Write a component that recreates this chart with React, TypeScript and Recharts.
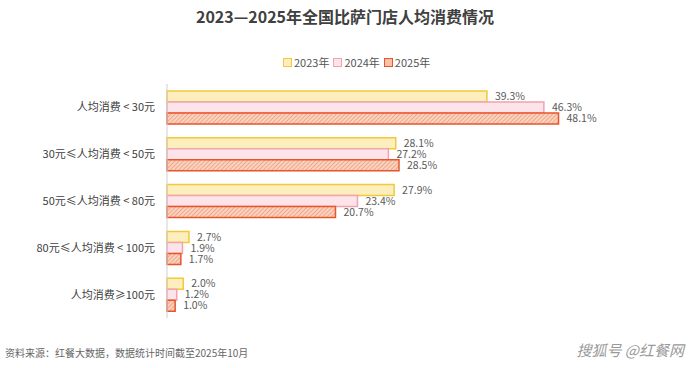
import React from "react"
import { BarChart, Bar, XAxis, YAxis, LabelList } from "recharts"

const categories = [
  "人均消费 < 30元",
  "30元≤人均消费 < 50元",
  "50元≤人均消费 < 80元",
  "80元≤人均消费 < 100元",
  "人均消费≥100元",
]
const values2023 = [39.3, 28.1, 27.9, 2.7, 2.0]
const values2024 = [46.3, 27.2, 23.4, 1.9, 1.2]
const values2025 = [48.1, 28.5, 20.7, 1.7, 1.0]
const seriesNames = ["2023年", "2024年", "2025年"]

const data = categories.map((name, i) => ({
  name,
  y2023: values2023[i],
  y2024: values2024[i],
  y2025: values2025[i],
}))

const FONT = '"Noto Sans CJK SC", "Noto Sans", sans-serif'
const fmt = (v: number) => `${v.toFixed(1)}%`

const legendStyles = [
  { background: "#fcefbd", border: "1.5px solid #f3c83c" },
  { background: "#fde3ea", border: "1.5px solid #f1a3b0" },
  { background: "#f6c2a8", border: "1.5px solid #e8552b" },
]

const labelProps = { fontSize: 10.5, fill: "#595959", fontFamily: FONT }

export default function App() {
  return (
    <div
      style={{
        position: "fixed",
        left: 0,
        top: 0,
        width: 690,
        height: 368,
        background: "#fff",
        fontFamily: FONT,
        overflow: "hidden",
      }}
    >
      <div
        style={{
          position: "absolute",
          top: 4,
          width: 690,
          textAlign: "center",
          fontSize: 16,
          fontWeight: 700,
          color: "#404040",
        }}
      >
        2023—2025年全国比萨门店人均消费情况
      </div>
      <div
        style={{
          position: "absolute",
          top: 54,
          left: 283,
          display: "flex",
          gap: 4,
          fontSize: 11,
          color: "#555",
        }}
      >
        {seriesNames.map((s, i) => (
          <div key={s} style={{ display: "flex", alignItems: "center", gap: 2 }}>
            <span style={{ width: 7, height: 7, display: "inline-block", ...legendStyles[i] }} />
            <span>{s}</span>
          </div>
        ))}
      </div>
      <BarChart
        width={690}
        height={368}
        data={data}
        layout="vertical"
        margin={{ top: 84, right: 116, bottom: 50, left: 0 }}
        barCategoryGap={7}
        barGap={0}
        style={{ position: "absolute", left: 0, top: 0 }}
      >
        <defs>
          <pattern id="hatch" width="3" height="3" patternUnits="userSpaceOnUse" patternTransform="rotate(45)">
            <rect width="3" height="3" fill="#f9d3c0" />
            <line x1="0" y1="0" x2="0" y2="3" stroke="#ec8a64" strokeWidth="1.2" />
          </pattern>
        </defs>
        <XAxis type="number" domain={[0, 50]} hide />
        <YAxis
          type="category"
          dataKey="name"
          width={167}
          tickLine={false}
          axisLine={{ stroke: "#cfcfcf" }}
          tickMargin={6}
          tick={{ fontSize: 11, fill: "#404040", fontFamily: FONT }}
        />
        <Bar dataKey="y2023" barSize={11} fill="#fcefbd" stroke="#f3c83c" strokeWidth={1.5} isAnimationActive={false}>
          <LabelList dataKey="y2023" position="right" offset={8} formatter={fmt} style={labelProps} />
        </Bar>
        <Bar dataKey="y2024" barSize={11} fill="#fde3ea" stroke="#f1a3b0" strokeWidth={1.5} isAnimationActive={false}>
          <LabelList dataKey="y2024" position="right" offset={8} formatter={fmt} style={labelProps} />
        </Bar>
        <Bar dataKey="y2025" barSize={11} fill="url(#hatch)" stroke="#e8552b" strokeWidth={1.5} isAnimationActive={false}>
          <LabelList dataKey="y2025" position="right" offset={8} formatter={fmt} style={labelProps} />
        </Bar>
      </BarChart>
      <div style={{ position: "absolute", left: 5, top: 345, fontSize: 10, color: "#666" }}>
        资料来源：红餐大数据，数据统计时间截至2025年10月
      </div>
      <div
        style={{
          position: "absolute",
          right: 6,
          top: 339,
          fontSize: 15,
          color: "#9a9a9a",
          fontStyle: "italic",
        }}
      >
        搜狐号 @红餐网
      </div>
    </div>
  )
}
